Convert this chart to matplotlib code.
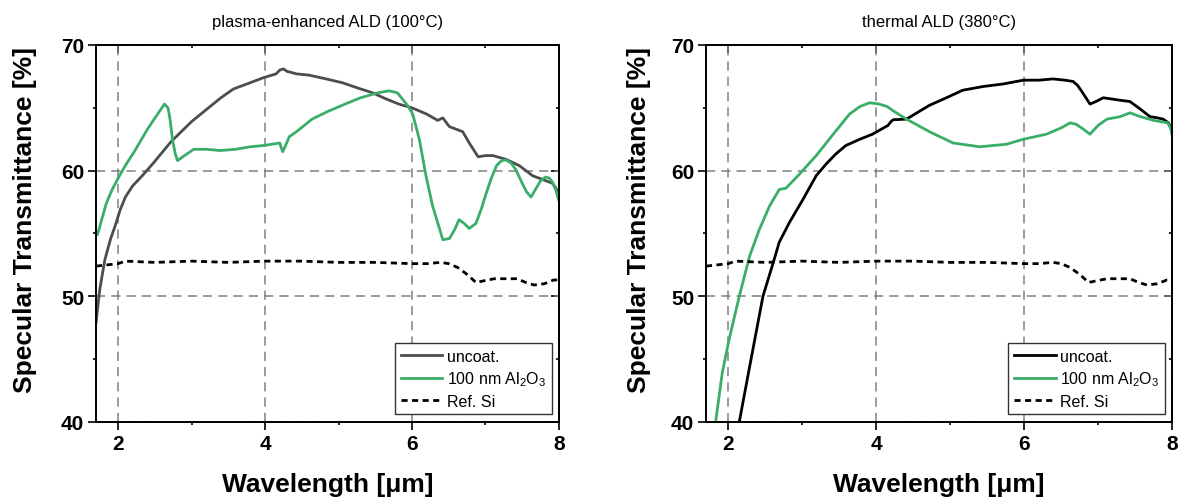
import matplotlib
matplotlib.use("Agg")
import matplotlib.pyplot as plt
from matplotlib.ticker import MultipleLocator, NullFormatter

plt.rcParams['font.family'] = ['Liberation Sans', 'DejaVu Sans']
plt.rcParams['mathtext.fontset'] = 'custom'
plt.rcParams['mathtext.rm'] = 'Liberation Sans'
plt.rcParams['mathtext.it'] = 'Liberation Sans:italic'

# ---- Left panel: plasma-enhanced ALD ----
pe_unc_x = [1.70, 1.75, 1.82, 1.90, 1.96, 2.03, 2.10, 2.20, 2.33, 2.48, 2.72, 3.00, 3.21, 3.40, 3.57, 3.80, 3.98,
            4.15, 4.20, 4.25, 4.30, 4.43, 4.60, 4.83, 5.05, 5.25, 5.46, 5.65, 5.82, 6.00, 6.20, 6.35, 6.42, 6.47,
            6.51, 6.69, 6.79, 6.90, 7.00, 7.10, 7.28, 7.46, 7.64, 7.82, 7.91, 7.96, 8.00]
pe_unc_y = [47.9, 50.5, 52.9, 54.6, 55.6, 56.9, 57.9, 58.8, 59.6, 60.6, 62.3, 63.9, 64.9, 65.8, 66.5, 67.0, 67.4,
            67.7, 68.0, 68.1, 67.9, 67.7, 67.6, 67.3, 67.0, 66.6, 66.2, 65.7, 65.3, 65.0, 64.5, 64.0, 64.2, 63.8,
            63.5, 63.1, 62.1, 61.1, 61.2, 61.2, 60.9, 60.4, 59.6, 59.2, 59.0, 58.6, 57.9]

pe_coat_x = [1.70, 1.72, 1.84, 1.92, 2.02, 2.12, 2.22, 2.40, 2.55, 2.63, 2.68, 2.71, 2.74, 2.78, 2.81, 2.88, 3.03,
             3.20, 3.39, 3.60, 3.80, 3.98, 4.20, 4.24, 4.28, 4.33, 4.45, 4.64, 4.85, 5.09, 5.30, 5.54, 5.69, 5.80,
             5.87, 5.95, 6.01, 6.10, 6.19, 6.28, 6.42, 6.51, 6.58, 6.64, 6.71, 6.78, 6.87, 6.94, 7.01, 7.08, 7.15,
             7.22, 7.28, 7.35, 7.41, 7.50, 7.56, 7.62, 7.68, 7.75, 7.82, 7.87, 7.91, 7.96, 8.00]
pe_coat_y = [55.0, 54.9, 57.4, 58.5, 59.6, 60.6, 61.5, 63.3, 64.6, 65.3, 65.0, 64.0, 62.5, 61.3, 60.8, 61.1, 61.7,
             61.7, 61.6, 61.7, 61.9, 62.0, 62.2, 61.5, 62.0, 62.7, 63.2, 64.1, 64.7, 65.3, 65.8, 66.2, 66.35, 66.2,
             65.7, 65.1, 64.5, 62.5, 59.6, 57.2, 54.5, 54.6, 55.3, 56.1, 55.8, 55.4, 55.8, 56.9, 58.2, 59.4, 60.4,
             60.8, 60.85, 60.6, 60.1, 59.0, 58.3, 57.9, 58.5, 59.2, 59.5, 59.4, 59.1, 58.4, 57.6]

# ---- Right panel: thermal ALD ----
th_unc_x = [2.15, 2.29, 2.47, 2.61, 2.69, 2.83, 3.01, 3.19, 3.32, 3.45, 3.59, 3.78, 3.95, 4.04, 4.16, 4.20, 4.23,
            4.41, 4.72, 4.95, 5.17, 5.45, 5.72, 5.99, 6.20, 6.39, 6.55, 6.66, 6.72, 6.78, 6.89, 6.97, 7.07, 7.30,
            7.43, 7.57, 7.70, 7.80, 7.88, 7.95, 8.00]
th_unc_y = [40.0, 44.4, 50.0, 52.7, 54.3, 55.9, 57.7, 59.6, 60.5, 61.3, 62.0, 62.5, 62.9, 63.2, 63.6, 63.9, 64.05,
            64.1, 65.2, 65.8, 66.4, 66.7, 66.9, 67.2, 67.2, 67.3, 67.2, 67.1, 66.8, 66.3, 65.3, 65.5, 65.8, 65.6,
            65.5, 64.9, 64.3, 64.2, 64.1, 63.8, 63.2]

th_coat_x = [1.83, 1.92, 2.01, 2.15, 2.29, 2.42, 2.56, 2.69, 2.78, 2.96, 3.19, 3.42, 3.64, 3.78, 3.91, 4.04, 4.15,
             4.22, 4.41, 4.72, 5.04, 5.40, 5.76, 5.99, 6.30, 6.50, 6.62, 6.70, 6.80, 6.89, 7.00, 7.12, 7.30, 7.43,
             7.57, 7.75, 7.94, 7.98, 8.00]
th_coat_y = [40.0, 43.9, 46.5, 50.0, 53.2, 55.3, 57.2, 58.5, 58.6, 59.7, 61.2, 62.9, 64.5, 65.1, 65.4, 65.3, 65.1,
             64.8, 64.1, 63.1, 62.2, 61.9, 62.1, 62.5, 62.9, 63.4, 63.8, 63.7, 63.3, 62.9, 63.6, 64.1, 64.3, 64.6,
             64.3, 64.0, 63.8, 63.4, 62.8]

# ---- Reference Si (both panels) ----
si_x = [1.70, 1.85, 2.00, 2.10, 2.50, 3.00, 3.50, 4.00, 4.50, 5.00, 5.50, 6.00, 6.20, 6.39, 6.50, 6.62, 6.76,
        6.87, 6.95, 7.12, 7.30, 7.43, 7.55, 7.66, 7.80, 7.93, 8.00]
si_y = [52.4, 52.5, 52.6, 52.8, 52.7, 52.8, 52.7, 52.8, 52.8, 52.7, 52.7, 52.6, 52.6, 52.7, 52.6, 52.3, 51.7,
        51.1, 51.2, 51.4, 51.4, 51.4, 51.1, 50.9, 51.0, 51.3, 51.3]

titles = ['plasma-enhanced ALD (100°C)', 'thermal ALD (380°C)']
labels = ['uncoat.', '100 nm Al$_2$O$_3$', 'Ref. Si']
unc_colors = ['#4d4d4d', '#000000']
green = '#3aae68'

fig = plt.figure(figsize=(11.78, 5.02), dpi=100)
ax1 = fig.add_axes([0.0815, 0.1574, 0.3930, 0.7510])
ax2 = fig.add_axes([0.5993, 0.1574, 0.3957, 0.7510])

panels = [(ax1, pe_unc_x, pe_unc_y, pe_coat_x, pe_coat_y),
          (ax2, th_unc_x, th_unc_y, th_coat_x, th_coat_y)]

for i, (ax, ux, uy, cx, cy) in enumerate(panels):
    ax.plot(ux, uy, color=unc_colors[i], lw=2, label=labels[0])
    ax.plot(cx, cy, color=green, lw=2, label=labels[1])
    ax.plot(si_x, si_y, color='black', lw=2, ls=(0, (2.2, 1.6)), label=labels[2])
    ax.set_xlim(1.7, 8)
    ax.set_ylim(40, 70)
    ax.xaxis.set_major_locator(MultipleLocator(2))
    ax.xaxis.set_minor_locator(MultipleLocator(1))
    ax.yaxis.set_major_locator(MultipleLocator(10))
    ax.yaxis.set_minor_locator(MultipleLocator(5))
    ax.tick_params(which='both', direction='out', width=1.2)
    ax.tick_params(which='major', length=5.5, labelsize=15, pad=3)
    ax.tick_params(which='minor', length=2.5)
    for lab in ax.get_xticklabels() + ax.get_yticklabels():
        lab.set_fontweight('bold')
    # inward mirrored ticks on top and right
    top = ax.secondary_xaxis('top')
    top.xaxis.set_major_locator(MultipleLocator(2))
    top.xaxis.set_minor_locator(MultipleLocator(1))
    top.xaxis.set_major_formatter(NullFormatter())
    top.tick_params(which='both', direction='in', width=1.2)
    top.tick_params(which='major', length=5.5)
    top.tick_params(which='minor', length=2.5)
    top.spines['top'].set_linewidth(1.4)
    right = ax.secondary_yaxis('right')
    right.yaxis.set_major_locator(MultipleLocator(10))
    right.yaxis.set_minor_locator(MultipleLocator(5))
    right.yaxis.set_major_formatter(NullFormatter())
    right.tick_params(which='both', direction='in', width=1.2)
    right.tick_params(which='major', length=5.5)
    right.tick_params(which='minor', length=2.5)
    right.spines['right'].set_linewidth(1.4)

    ax.grid(True, which='major', color='#808080', ls=(0, (6, 4)), lw=1.1)
    for s in ax.spines.values():
        s.set_linewidth(1.4)
    ax.set_title(titles[i], fontsize=12, pad=14)
    ax.set_xlabel('Wavelength [μm]', fontsize=19, fontweight='bold', labelpad=14)
    ax.set_ylabel('Specular Transmittance [%]', fontsize=19, fontweight='bold', labelpad=14)
    ax.yaxis.set_label_coords(-0.128 if i == 0 else -0.118, 0.538)
    leg = ax.legend(loc='lower right', bbox_to_anchor=(0.985, 0.02), fontsize=11.5, fancybox=False,
                    edgecolor='#333333', framealpha=1, handlelength=2.6, handletextpad=0.3,
                    borderpad=0.35, labelspacing=0.35, borderaxespad=0)
    leg.get_frame().set_linewidth(1.0)

fig.savefig('out.png', dpi=100)
